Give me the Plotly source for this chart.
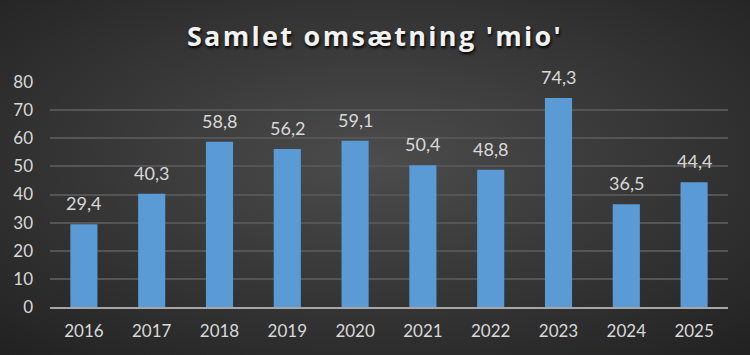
import plotly.graph_objects as go
import base64

years = ["2016", "2017", "2018", "2019", "2020", "2021", "2022", "2023", "2024", "2025"]
revenue = [29.4, 40.3, 58.8, 56.2, 59.1, 50.4, 48.8, 74.3, 36.5, 44.4]
title_text = "Samlet omsætning 'mio'"

W, H = 750, 355
ml, mr, mt, mb = 50, 22, 82, 48

svg = f'''<svg xmlns="http://www.w3.org/2000/svg" width="{W}" height="{H}" viewBox="0 0 {W} {H}" preserveAspectRatio="none">
<defs><radialGradient id="g" cx="50%" cy="45%" r="75%">
<stop offset="0%" stop-color="#4c4c4c"/><stop offset="100%" stop-color="#212121"/></radialGradient></defs>
<rect width="{W}" height="{H}" fill="url(#g)"/></svg>'''
bg_uri = "data:image/svg+xml;base64," + base64.b64encode(svg.encode()).decode()

pw = W - ml - mr
ph = H - mt - mb

fig = go.Figure(go.Bar(
    x=years, y=revenue,
    marker=dict(color="#5b9bd5", line=dict(width=0)),
    hoverinfo="skip",
))

# category axis: annotation x given as category index
for i, v in enumerate(revenue):
    fig.add_annotation(x=i, y=v, text=f"{v:.1f}".replace(".", ","), showarrow=False,
                       yanchor="bottom", yshift=8,
                       font=dict(color="#d9d9d9", size=18, family="Lato"))

fig.update_layout(
    width=W, height=H,
    margin=dict(l=ml, r=mr, t=mt, b=mb),
    paper_bgcolor="#333333", plot_bgcolor="rgba(0,0,0,0)",
    separators=",.",
    bargap=0.6,
    showlegend=False,
    hovermode=False,
    title=dict(text="<b>" + title_text + "</b>", x=0.5, xanchor="center", y=0.896, yanchor="middle",
               font=dict(family="Open Sans", size=27, color="#f2f2f2", shadow="1px 2px 3px #000")),
    images=[dict(source=bg_uri, xref="paper", yref="paper", x=-ml / pw, y=1 + mt / ph,
                 sizex=W / pw, sizey=H / ph, xanchor="left", yanchor="top",
                 sizing="stretch", layer="below")],
    xaxis=dict(type="category", showgrid=False, tickfont=dict(color="#d9d9d9", size=17, family="Lato"),
               ticks="", showline=True, linecolor="#a6a6a6", linewidth=2, ticklabelstandoff=8),
    yaxis=dict(range=[0, 80], dtick=10, gridcolor="#555555", gridwidth=1.5,
               tickfont=dict(color="#d9d9d9", size=17, family="Lato"),
               zeroline=False, ticks="", ticklabelstandoff=16),
)

post = """
document.body.style.margin='0';
var t=document.querySelector('.gtitle'); if(t){t.style.letterSpacing='2.3px';}
"""
fig.write_html("out.html", post_script=post, config={"displayModeBar": False})
